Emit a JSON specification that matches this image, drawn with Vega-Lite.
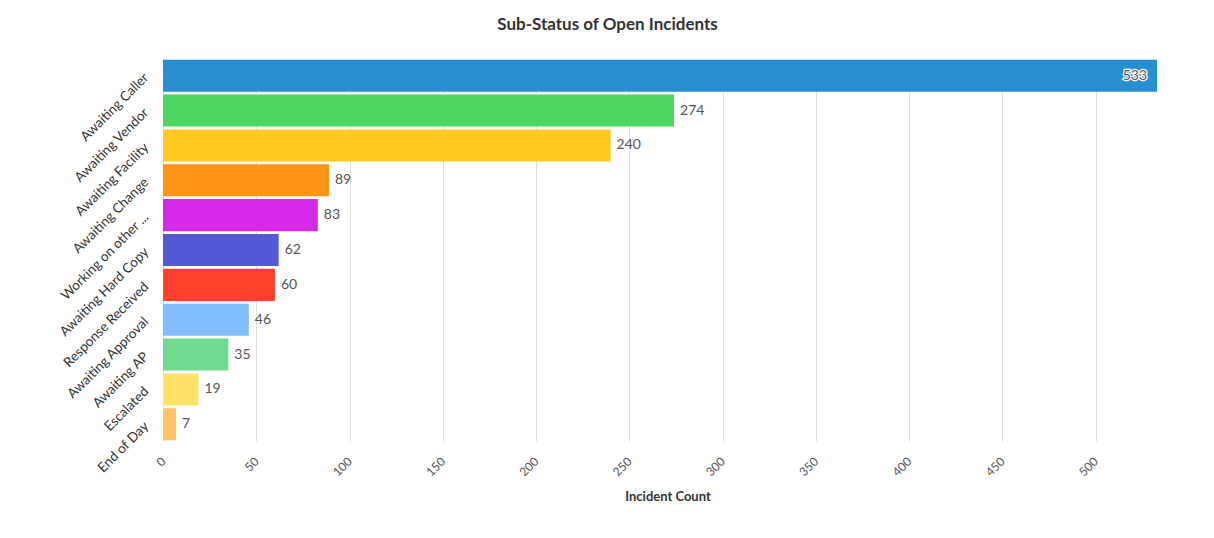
{
  "$schema": "https://vega.github.io/schema/vega-lite/v6.json",
  "autosize": "none",
  "width": 1009,
  "height": 382,
  "padding": {"left": 163, "top": 59, "right": 42, "bottom": 97},
  "background": "white",
  "title": {
    "text": "Sub-Status of Open Incidents",
    "anchor": "middle",
    "frame": "group",
    "font": "Lato",
    "fontSize": 17,
    "fontWeight": "bold",
    "color": "#333333",
    "offset": 25,
    "dx": -60
  },
  "data": {
    "values": [
      {"status": "Awaiting Caller", "count": 533, "color": "#278ECF"},
      {"status": "Awaiting Vendor", "count": 274, "color": "#4BD762"},
      {"status": "Awaiting Facility", "count": 240, "color": "#FFCA1F"},
      {"status": "Awaiting Change", "count": 89, "color": "#FF9416"},
      {"status": "Working on other ...", "count": 83, "color": "#D42AE8"},
      {"status": "Awaiting Hard Copy", "count": 62, "color": "#535AD7"},
      {"status": "Response Received", "count": 60, "color": "#FF402C"},
      {"status": "Awaiting Approval", "count": 46, "color": "#83BFFF"},
      {"status": "Awaiting AP", "count": 35, "color": "#6EDB8F"},
      {"status": "Escalated", "count": 19, "color": "#FFE366"},
      {"status": "End of Day", "count": 7, "color": "#FFC266"}
    ]
  },
  "encoding": {
    "y": {
      "field": "status",
      "type": "nominal",
      "sort": null,
      "scale": {"paddingInner": 0.08, "paddingOuter": 0.02},
      "axis": {
        "title": null,
        "labelAngle": -45,
        "labelAlign": "right",
        "labelBaseline": "middle",
        "labelFont": "Lato",
        "labelFontSize": 13.5,
        "labelColor": "#333333",
        "labelPadding": 17,
        "ticks": false,
        "domain": false,
        "grid": false
      }
    },
    "x": {
      "field": "count",
      "type": "quantitative",
      "scale": {"domain": [0, 541], "nice": false},
      "axis": {
        "title": "Incident Count",
        "titleFont": "Lato",
        "titleFontSize": 13,
        "titleFontWeight": "bold",
        "titleColor": "#333333",
        "titlePadding": 12,
        "values": [0, 50, 100, 150, 200, 250, 300, 350, 400, 450, 500],
        "labelAngle": -45,
        "labelAlign": "right",
        "labelBaseline": "middle",
        "labelFont": "Lato",
        "labelFontSize": 12,
        "labelColor": "#555555",
        "labelPadding": 18,
        "ticks": false,
        "domain": false,
        "grid": true,
        "gridColor": "#e0e0e0",
        "gridWidth": 1
      }
    }
  },
  "layer": [
    {
      "mark": {"type": "bar"},
      "encoding": {
        "color": {"field": "color", "type": "nominal", "scale": null, "legend": null}
      }
    },
    {
      "transform": [{"filter": "datum.count < 500"}],
      "mark": {"type": "text", "align": "left", "baseline": "middle", "dx": 6, "font": "Lato", "fontSize": 14, "color": "#555555"},
      "encoding": {"text": {"field": "count", "type": "quantitative"}}
    },
    {
      "transform": [{"filter": "datum.count >= 500"}],
      "mark": {"type": "text", "align": "right", "baseline": "middle", "dx": -10, "font": "Lato", "fontSize": 14, "fill": "#555555", "stroke": "white", "strokeWidth": 2.5},
      "encoding": {"text": {"field": "count", "type": "quantitative"}}
    },
    {
      "transform": [{"filter": "datum.count >= 500"}],
      "mark": {"type": "text", "align": "right", "baseline": "middle", "dx": -10, "font": "Lato", "fontSize": 14, "fill": "#555555"},
      "encoding": {"text": {"field": "count", "type": "quantitative"}}
    }
  ],
  "config": {"view": {"stroke": null}}
}
